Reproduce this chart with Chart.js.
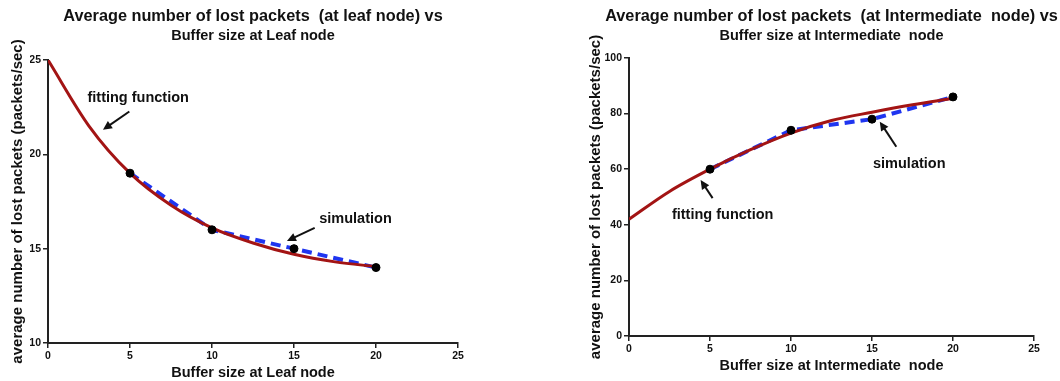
<!DOCTYPE html>
<html>
<head>
<meta charset="utf-8">
<script src="https://cdn.jsdelivr.net/npm/chart.js@4.4.1/dist/chart.umd.min.js"></script>
<style>
html, body { margin: 0; padding: 0; background: #fff; }
.wrap { position: absolute; top: 0; width: 530px; height: 381px; }
</style>
</head>
<body>
<div class="wrap" style="left:0"><canvas id="leafChart"></canvas></div>
<div class="wrap" style="left:530px"><canvas id="interChart"></canvas></div>
<script>
// データ
const bufferSizes = [5, 10, 15, 20];
const leafSimulation = [19, 16, 15, 14];
const interSimulation = [60, 74, 78, 86];

const fitBufferSizes = [0, 2.5, 5, 7.5, 10, 12.5, 15, 17.5, 20];
const leafFitting = [25, 21.5, 19, 17.3, 16.1, 15.3, 14.7, 14.3, 14.05];
const interFitting = [42, 52, 60, 67, 73, 77.5, 80.5, 83.2, 85.5];

const xTicks = [0, 5, 10, 15, 20, 25];
const leafYTicks = [10, 15, 20, 25];
const interYTicks = [0, 20, 40, 60, 80, 100];

const FONT = '"Liberation Sans", Arial, sans-serif';
const RED = '#a31414';
const BLUE = '#1f35f0';

function toPoints(xs, ys) {
    return xs.map((x, i) => ({ x: x, y: ys[i] }));
}

// タイトル・軸タイトル・注釈の描画
const chartText = {
    id: 'chartText',
    afterDatasetsDraw(chart, args, opts) {
        const { ctx, chartArea: a, scales: { x, y } } = chart;
        const cx = (a.left + a.right) / 2;
        const cy = (a.top + a.bottom) / 2;
        ctx.save();
        ctx.fillStyle = '#111';
        ctx.textAlign = 'center';
        ctx.textBaseline = 'middle';

        ctx.font = 'bold 16.3px ' + FONT;
        ctx.fillText(opts.title[0], cx, 17);
        ctx.font = 'bold 14.5px ' + FONT;
        ctx.fillText(opts.title[1], cx, 36);

        ctx.font = 'bold 14.5px ' + FONT;
        ctx.fillText(opts.xTitle, cx, opts.xTitleY);
        ctx.save();
        ctx.translate(opts.yTitleX, cy);
        ctx.rotate(-Math.PI / 2);
        ctx.font = 'bold 15px ' + FONT;
        ctx.fillText(opts.yTitle, 0, 0);
        ctx.restore();

        // 注釈と矢印
        opts.notes.forEach(n => {
            ctx.font = 'bold 14.5px ' + FONT;
            ctx.fillText(n.text, x.getPixelForValue(n.at[0]), y.getPixelForValue(n.at[1]));
            const x1 = x.getPixelForValue(n.from[0]), y1 = y.getPixelForValue(n.from[1]);
            const x2 = x.getPixelForValue(n.to[0]), y2 = y.getPixelForValue(n.to[1]);
            const ang = Math.atan2(y2 - y1, x2 - x1);
            ctx.strokeStyle = '#111';
            ctx.lineWidth = 2;
            ctx.beginPath();
            ctx.moveTo(x1, y1);
            ctx.lineTo(x2 - 6 * Math.cos(ang), y2 - 6 * Math.sin(ang));
            ctx.stroke();
            ctx.beginPath();
            ctx.moveTo(x2, y2);
            ctx.lineTo(x2 - 10 * Math.cos(ang - 0.45), y2 - 10 * Math.sin(ang - 0.45));
            ctx.lineTo(x2 - 10 * Math.cos(ang + 0.45), y2 - 10 * Math.sin(ang + 0.45));
            ctx.closePath();
            ctx.fill();
        });
        ctx.restore();
    }
};

function axis(min, max, ticks, size) {
    return {
        type: 'linear',
        min: min,
        max: max,
        afterBuildTicks: s => { s.ticks = ticks.map(v => ({ value: v })); },
        afterFit: s => { if (s.isHorizontal()) s.height = size; else s.width = size; },
        grid: { drawOnChartArea: false, drawTicks: true, tickLength: 5, color: '#222', lineWidth: 1.5 },
        border: { color: '#222', width: 2 },
        ticks: { color: '#111', padding: 2, font: { family: FONT, size: 10.5, weight: 'bold' } }
    };
}

function makeChart(id, fitData, simData, cfg) {
    return new Chart(document.getElementById(id), {
        type: 'scatter',
        data: {
            datasets: [
                {
                    data: toPoints(bufferSizes, simData),
                    showLine: false,
                    pointRadius: 4,
                    backgroundColor: '#000',
                    borderColor: '#000',
                    order: 0
                },
                {
                    data: toPoints(fitBufferSizes, fitData),
                    showLine: true,
                    borderColor: RED,
                    borderWidth: 3,
                    pointRadius: 0,
                    cubicInterpolationMode: 'monotone',
                    order: 1
                },
                {
                    data: toPoints(bufferSizes, simData),
                    showLine: true,
                    borderColor: BLUE,
                    borderWidth: 4,
                    borderDash: [10, 6],
                    pointRadius: 0,
                    order: 2
                }
            ]
        },
        options: {
            responsive: true,
            maintainAspectRatio: false,
            animation: false,
            layout: { padding: cfg.padding },
            scales: {
                x: axis(0, 25, xTicks, cfg.xHeight),
                y: axis(cfg.yMin, cfg.yMax, cfg.yTicks, cfg.yWidth)
            },
            plugins: {
                legend: { display: false },
                tooltip: { enabled: false },
                chartText: cfg.text
            }
        },
        plugins: [chartText]
    });
}

makeChart('leafChart', leafFitting, leafSimulation, {
    padding: { left: 30, right: 72, top: 60, bottom: 0 },
    xHeight: 38, yWidth: 18,
    yMin: 10, yMax: 25, yTicks: leafYTicks,
    text: {
        title: ['Average number of lost packets  (at leaf node) vs', 'Buffer size at Leaf node'],
        xTitle: 'Buffer size at Leaf node', xTitleY: 373,
        yTitle: 'average number of lost packets (packets/sec)', yTitleX: 18,
        notes: [
            { text: 'fitting function', at: [5.5, 22.97], from: [4.96, 22.27], to: [3.35, 21.3] },
            { text: 'simulation', at: [18.75, 16.55], from: [16.26, 16.1], to: [14.57, 15.41] }
        ]
    }
});

makeChart('interChart', interFitting, interSimulation, {
    padding: { left: 70, right: 26, top: 58, bottom: 0 },
    xHeight: 45, yWidth: 29,
    yMin: 0, yMax: 100, yTicks: interYTicks,
    text: {
        title: ['Average number of lost packets  (at Intermediate  node) vs', 'Buffer size at Intermediate  node'],
        xTitle: 'Buffer size at Intermediate  node', xTitleY: 366,
        yTitle: 'average number of lost packets (packets/sec)', yTitleX: 66,
        notes: [
            { text: 'simulation', at: [17.3, 61.9], from: [16.5, 68.1], to: [15.48, 77.1] },
            { text: 'fitting function', at: [5.78, 43.5], from: [5.16, 49.6], to: [4.42, 56.1] }
        ]
    }
});
</script>
</body>
</html>
